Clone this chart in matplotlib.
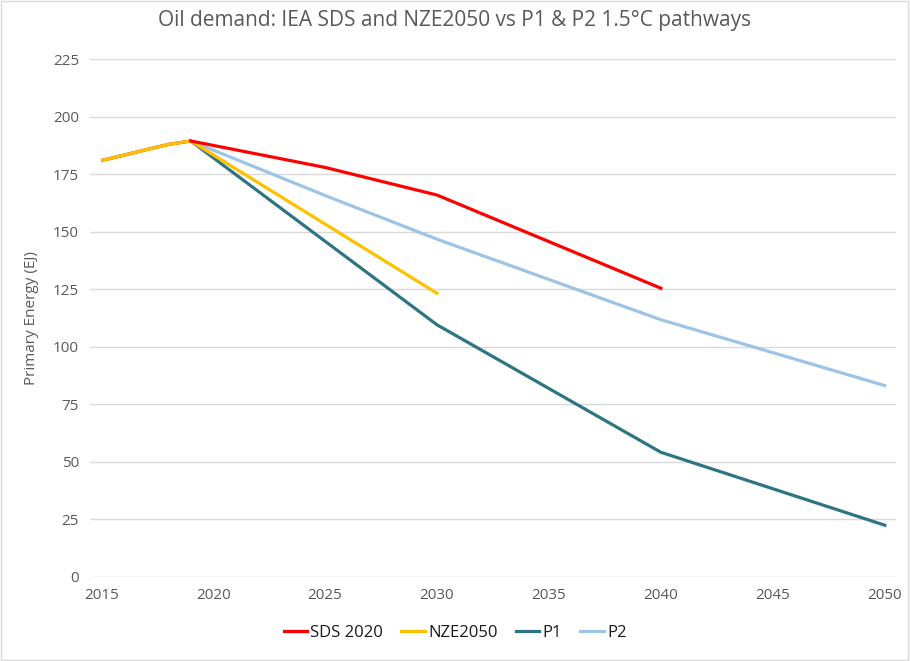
import matplotlib
matplotlib.use("Agg")
import matplotlib.pyplot as plt
from matplotlib.patches import Rectangle

# Oil demand (EJ)
hist_years = [2015, 2016, 2017, 2018, 2019]
hist_values = [181, 183.3, 185.7, 188, 189.5]

sds_years = [2019, 2025, 2030, 2040]
sds_values = [189.5, 178, 166, 125.5]

nze_years = [2019, 2030]
nze_values = [189.5, 123.3]

p1_years = [2019, 2030, 2040, 2050]
p1_values = [189.5, 109.6, 54.2, 22.5]

p2_years = [2019, 2025, 2030, 2040, 2050]
p2_values = [189.5, 165.8, 146.8, 111.8, 83.2]

x_ticks = [2015, 2020, 2025, 2030, 2035, 2040, 2045, 2050]
y_ticks = [0, 25, 50, 75, 100, 125, 150, 175, 200, 225]

plt.rcParams['font.family'] = ['Open Sans', 'DejaVu Sans']
grey = '#595959'

fig = plt.figure(figsize=(9.1, 6.61), dpi=100)
ax = fig.add_axes([0.0989, 0.1271, 0.8857, 0.7832])

# history is shared by SDS and NZE2050 in the source chart
ax.plot(hist_years, hist_values, color='#FF0000', lw=2.3, solid_capstyle='butt')
ax.plot(hist_years, hist_values, color='#FFC000', lw=2.3, solid_capstyle='butt')

ax.plot(p2_years, p2_values, color='#9DC3E6', lw=2.3, label='P2')
ax.plot(p1_years, p1_values, color='#2E7583', lw=2.3, label='P1')
ax.plot(nze_years, nze_values, color='#FFC000', lw=2.3, label='NZE2050')
ax.plot(sds_years, sds_values, color='#FF0000', lw=2.3, label='SDS 2020')

ax.set_xlim(2014.5, 2050.5)
ax.set_ylim(0, 225)
ax.set_xticks(x_ticks)
ax.set_yticks(y_ticks)
ax.tick_params(length=0, labelsize=11, labelcolor=grey, pad=8)
ax.grid(axis='y', color='#D9D9D9', lw=1)
ax.set_axisbelow(True)
for s in ax.spines.values():
    s.set_visible(False)

ax.set_ylabel('Primary Energy (EJ)', fontsize=11, color=grey, labelpad=10)
fig.suptitle('Oil demand: IEA SDS and NZE2050 vs P1 & P2 1.5°C pathways',
             fontsize=15, color=grey, y=0.985)

handles, labels = ax.get_legend_handles_labels()
order = ['SDS 2020', 'NZE2050', 'P1', 'P2']
hmap = dict(zip(labels, handles))
fig.legend([hmap[k] for k in order], order, loc='center', bbox_to_anchor=(0.5, 0.043),
           ncol=4, frameon=False, fontsize=12, handlelength=1.4, handletextpad=0.2,
           columnspacing=1.1, labelcolor='#1a1a1a')

fig.patches.append(Rectangle((0.001, 0.001), 0.997, 0.997, transform=fig.transFigure,
                             fill=False, edgecolor='#D9D9D9', lw=1))

fig.savefig('out.png', dpi=100)
